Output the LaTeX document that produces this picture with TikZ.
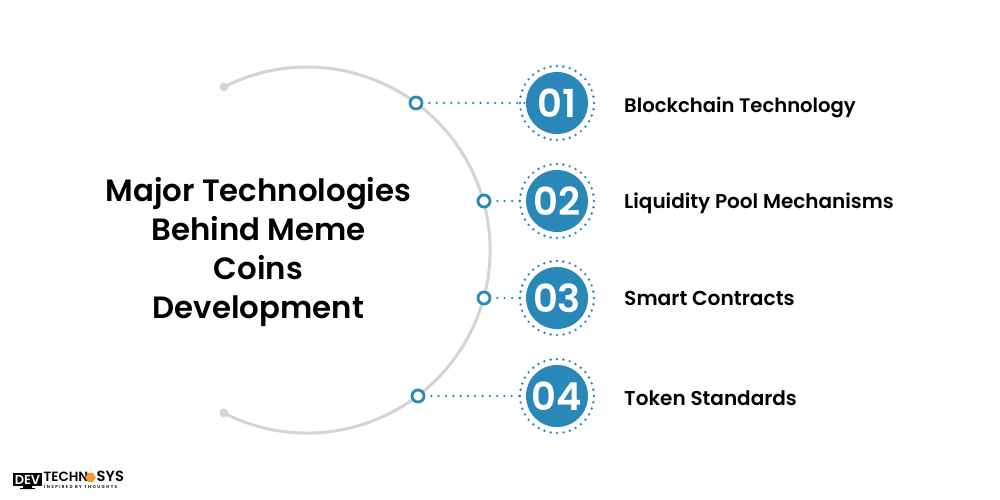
\documentclass[tikz,border=0pt]{standalone}
\usepackage{fontspec}
\setmainfont{Poppins}[UprightFont=* SemiBold,BoldFont=* Bold]
\usetikzlibrary{shapes.geometric}
\definecolor{brandblue}{HTML}{2A88B8}
\definecolor{arcgrey}{HTML}{D4D4D4}
\definecolor{hexorange}{HTML}{F39C2D}
\tikzset{
  x=1pt,y=-1pt,
  numdisc/.style={circle,fill=brandblue,text=white,minimum size=62pt,inner sep=0pt,font=\fontsize{38.5}{38.5}\selectfont},
  dotring/.style={draw=brandblue,line width=2.7pt,line cap=round,dash pattern=on 0pt off 6.46pt},
  ringnode/.style={circle,draw=brandblue,fill=white,line width=2.8pt,minimum size=12pt,inner sep=0pt},
  link/.style={draw=brandblue,line width=2.5pt,line cap=round,dash pattern=on 0pt off 7.3pt},
  itemlabel/.style={anchor=base west,inner sep=0pt,text=black},
  arcend/.style={circle,fill=arcgrey,minimum size=9pt,inner sep=0pt},
  titletext/.style={align=center,inner sep=0pt,text=black,font=\fontsize{30.8}{39}\selectfont},
  logotext/.style={inner sep=0pt,anchor=base west,text=black},
}
\begin{document}
\begin{tikzpicture}
\useasboundingbox (0,0) rectangle (1000,500);
\fill[white] (0,0) rectangle (1000,500);
\node[arcend] (arcA) at (224,87) {};
\node[arcend] (arcB) at (224,413) {};
\draw[arcgrey,line width=3pt] (arcA.center) arc[start angle=117,delta angle=-234,radius=183pt];
\node[titletext] (title) at (258.5,252) {Major Technologies\\Behind Meme\\Coins\\Development};
\foreach \n/\y/\rx/\txt/\ty/\fs in {01/103/416/Blockchain Technology/112.3/19.6,02/201/484/Liquidity Pool Mechanisms/208.3/20,03/298/484/Smart Contracts/305/20.2,04/396/418/Token Standards/405/20}{
  \node[ringnode] (r\n) at (\rx,\y) {};
  \node[numdisc] (d\n) at (557,\y) {\n};
  \draw[dotring] (d\n.center) ++(37,0) arc[start angle=0,delta angle=360,radius=37pt];
  \path (r\n.east) ++(6,0) coordinate (s\n);
  \draw[link] (s\n) -- (d\n.west);
  \node[itemlabel,font=\fontsize{\fs}{20}\selectfont] (l\n) at (624,\ty) {\txt};
}
% logo
\fill[black] (13,472.5) rectangle (41.5,486);
\fill[black] (23,486) rectangle (32,488) (20,488) rectangle (35,489);
\node[inner sep=0pt,text=white,font=\fontsize{13}{13}\selectfont] (logoa) at (27.5,479.5) {DEV};
\node[logotext,font=\fontsize{13.4}{13}\selectfont] (logob) at (43.5,481.8) {TECHN};
\node[regular polygon,regular polygon sides=6,fill=hexorange,minimum size=10.5pt,inner sep=0pt] (logoc) at (90.5,477.5) {};
\node[logotext,font=\fontsize{14.7}{13}\selectfont] (logod) at (96.5,481.8) {SYS};
\node[inner sep=0pt,anchor=base west,text=black,font=\addfontfeature{LetterSpace=34}\fontsize{4.2}{5}\selectfont] (logoe) at (44,488) {INSPIRED BY THOUGHTS};
\end{tikzpicture}
\end{document}
